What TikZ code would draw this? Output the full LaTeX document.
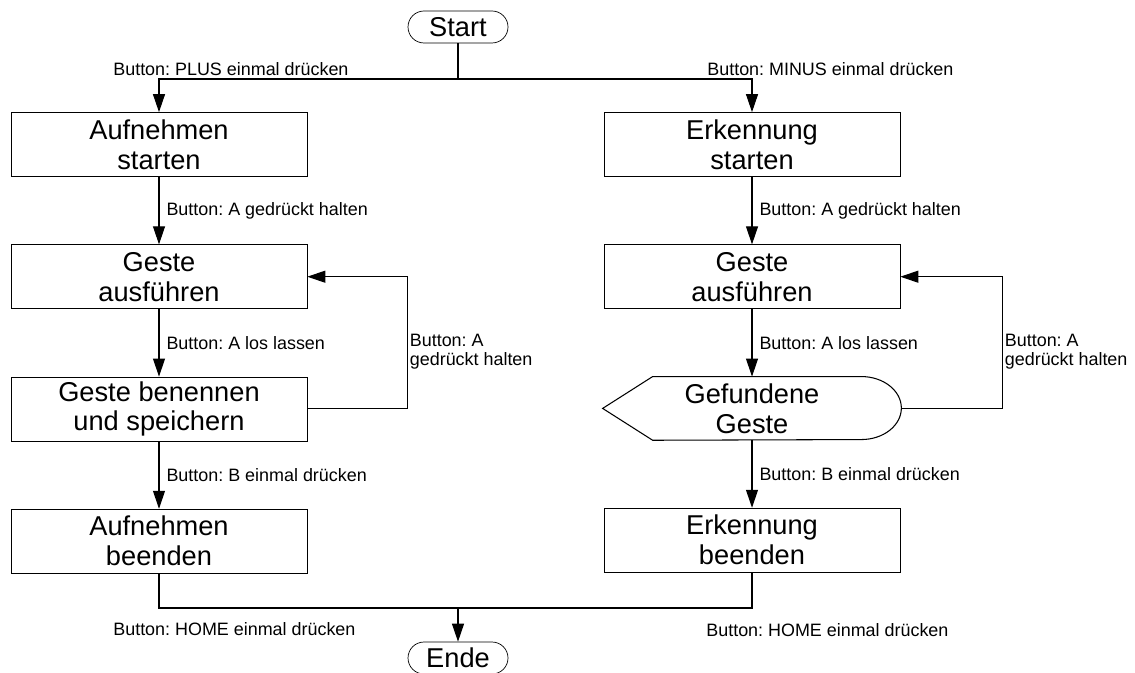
\documentclass[tikz,border=0pt]{standalone}
\usepackage{fontspec}
\setmainfont{Liberation Sans}
\usepackage{tikz}
\usetikzlibrary{positioning,arrows.meta}
\frenchspacing
\tikzset{
    flowbox/.style={draw, rectangle, align=center, minimum width=5.92cm, minimum height=1.28cm, inner sep=0pt, font=\fontsize{15.5pt}{17pt}\selectfont},
    flowterm/.style={draw, rounded corners=0.32cm, align=center, minimum width=2cm, minimum height=0.64cm, inner sep=0pt, font=\fontsize{15.5pt}{17pt}\selectfont},
    flowdisplay/.style={rectangle, align=center, minimum width=5.96cm, minimum height=1.26cm, inner sep=0pt, font=\fontsize{15.5pt}{17pt}\selectfont},
    flowarrow/.style={draw, -{Triangle[length=0.36cm, width=0.24cm]}, line width=0.6pt},
    flowline/.style={draw, line width=0.6pt},
    flowlabel/.style={anchor=west, inner sep=0pt, align=left, font=\fontsize{10.2pt}{10.8pt}\selectfont},
    edgelabel/.style={flowlabel, xshift=0.14cm}
}
\begin{document}
\begin{tikzpicture}[node distance=1.35cm]
    \useasboundingbox (0,0) rectangle (22.7,-13.46);
    \node[flowterm] (start) at (9.16,-0.54) {Start};
    \coordinate (split) at (9.16,-1.58);
    \coordinate (merge) at (9.16,-12.16);

    % Aufnehmen
    \node[flowbox] (recstart) at (3.18,-2.89) {Aufnehmen\\starten};
    \node[flowbox, below=of recstart] (recgesture) {Geste\\ausführen};
    \node[flowbox, below=of recgesture] (recsave) {Geste benennen\\und speichern};
    \node[flowbox, below=of recsave] (recend) {Aufnehmen\\beenden};

    % Erkennung
    \node[flowbox] (detstart) at (15.04,-2.89) {Erkennung\\starten};
    \node[flowbox, below=of detstart] (detgesture) {Geste\\ausführen};
    \node[flowdisplay, below=of detgesture] (detfound) {Gefundene\\Geste};
    \node[flowbox, below=of detfound] (detend) {Erkennung\\beenden};
    \draw[line width=0.6pt] (detfound.west) -- ([xshift=1cm]detfound.north west)
        -- ([xshift=-0.8cm]detfound.north east)
        arc[start angle=90, end angle=-90, x radius=0.8cm, y radius=0.63cm]
        -- ([xshift=1cm]detfound.south west) -- cycle;

    \node[flowterm] (ende) at (9.16,-13.16) {Ende};

    \draw[flowline] (start) -- (split);
    \draw[flowarrow] (split) -| (recstart);
    \draw[flowarrow] (split) -| (detstart);
    \node[flowlabel] (pluslabel) at (2.26,-1.38) {Button: PLUS einmal drücken};
    \node[flowlabel] (minuslabel) at (14.14,-1.38) {Button: MINUS einmal drücken};

    \draw[flowarrow] (recstart) -- node[edgelabel] {Button: A gedrückt halten} (recgesture);
    \draw[flowarrow] (recgesture) -- node[edgelabel] {Button: A los lassen} (recsave);
    \draw[flowarrow] (recsave) -- node[edgelabel] {Button: B einmal drücken} (recend);
    \draw[flowarrow] (recsave.east) -- ++(2cm,0) |- node[flowlabel, pos=0.25, xshift=0.04cm, yshift=-0.18cm] {Button: A\\gedrückt halten} (recgesture.east);

    \draw[flowarrow] (detstart) -- node[edgelabel] {Button: A gedrückt halten} (detgesture);
    \draw[flowarrow] (detgesture) -- node[edgelabel] {Button: A los lassen} (detfound);
    \draw[flowarrow] (detfound) -- node[edgelabel] {Button: B einmal drücken} (detend);
    \draw[flowarrow] (detfound.east) -- ++(2.02cm,0) |- node[flowlabel, pos=0.25, xshift=0.04cm, yshift=-0.18cm] {Button: A\\gedrückt halten} (detgesture.east);

    \draw[flowline] (recend) |- (merge) -| (detend);
    \draw[flowarrow] (merge) -- (ende);
    \node[flowlabel] (homeleft) at (2.26,-12.58) {Button: HOME einmal drücken};
    \node[flowlabel] (homeright) at (14.12,-12.6) {Button: HOME einmal drücken};
\end{tikzpicture}
\end{document}
